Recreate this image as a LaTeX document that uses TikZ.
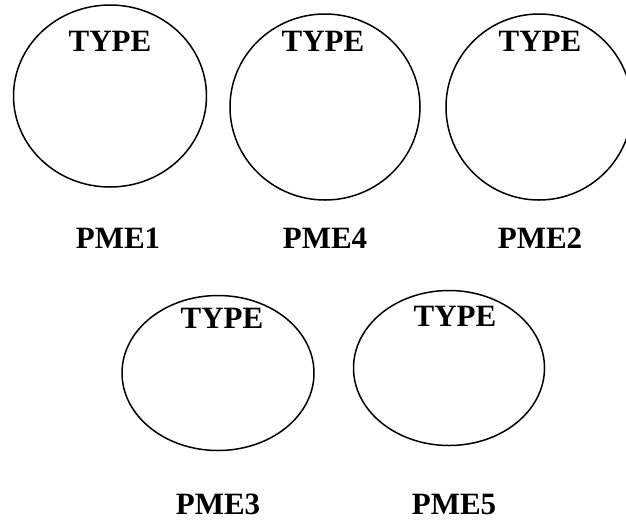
\documentclass[tikz,border=0pt]{standalone}
\usepackage{fontspec}
\setmainfont{Liberation Serif}
\usetikzlibrary{shapes.geometric}
\begin{document}
\begin{tikzpicture}[x=1pt,y=-1pt,
  blob/.style={draw,line width=1.5pt,ellipse,inner sep=0pt},
  lbl/.style={font=\fontsize{31}{33}\selectfont\bfseries,inner sep=0pt}]
\useasboundingbox (0,0) rectangle (626,523);
\node[blob,minimum width=193pt,minimum height=182pt] (e1) at (110,96) {};
\node[blob,minimum width=190pt,minimum height=186pt] (e4) at (325,107) {};
\node[blob,minimum width=186pt,minimum height=186pt] (e2) at (539,107) {};
\node[blob,minimum width=192pt,minimum height=155pt] (e3) at (218,373) {};
\node[blob,minimum width=191pt,minimum height=155pt] (e5) at (449,368) {};
\node[lbl] (t1) at (110,41) {TYPE};
\node[lbl] (t4) at (323,41) {TYPE};
\node[lbl] (t2) at (540,41) {TYPE};
\node[lbl] (t3) at (222,318) {TYPE};
\node[lbl] (t5) at (455,316) {TYPE};
\node[lbl] (p1) at (118,238) {PME1};
\node[lbl] (p4) at (325,238) {PME4};
\node[lbl] (p2) at (540,238) {PME2};
\node[lbl] (p3) at (218,504) {PME3};
\node[lbl] (p5) at (454,504) {PME5};
\end{tikzpicture}
\end{document}
